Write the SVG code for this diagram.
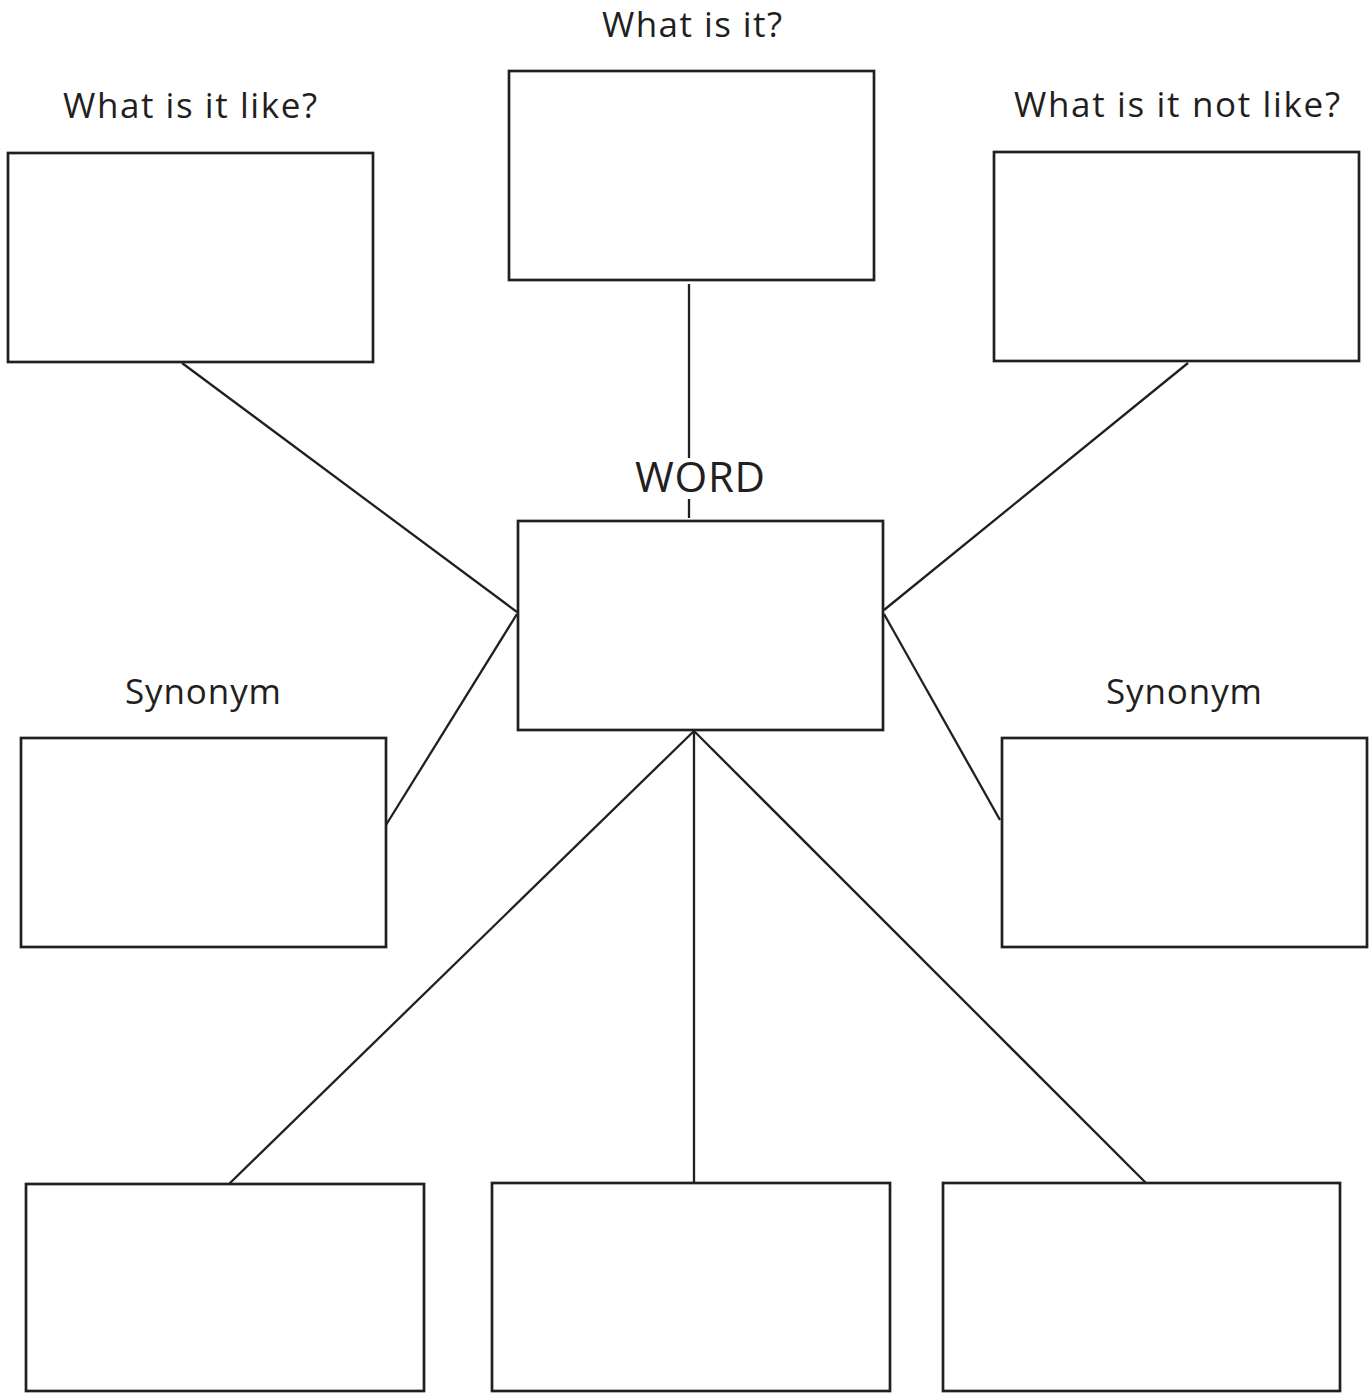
<svg xmlns="http://www.w3.org/2000/svg" width="1369" height="1393" viewBox="0 0 1369 1393">
<style>
.box{fill:#fff;stroke:#231f20;stroke-width:2.7}
.conn line{stroke:#231f20;stroke-width:2.3}
.lbl{font-family:"Open Sans","Noto Sans",sans-serif;font-size:35px;fill:#231f20;text-anchor:middle}
.big{font-size:42px}
</style>
<rect width="1369" height="1393" fill="#fff"/>
<g id="connectors" class="conn">
<line x1="689" y1="284" x2="689" y2="458"/>
<line x1="689" y1="499" x2="689" y2="518"/>
<line x1="182" y1="363" x2="517" y2="612"/>
<line x1="1188" y1="363" x2="884" y2="610"/>
<line x1="517" y1="614" x2="386" y2="825"/>
<line x1="884" y1="614" x2="1000" y2="820"/>
<line x1="694" y1="731" x2="229" y2="1184"/>
<line x1="694" y1="731" x2="694" y2="1183"/>
<line x1="694" y1="731" x2="1146" y2="1183"/>
</g>
<g id="node-what"><text class="lbl" x="692" y="37" textLength="180" lengthAdjust="spacing">What is it?</text><rect class="box" x="509" y="71" width="365" height="209"/></g>
<g id="node-like"><text class="lbl" x="190" y="118" textLength="254" lengthAdjust="spacing">What is it like?</text><rect class="box" x="8" y="153" width="365" height="209"/></g>
<g id="node-notlike"><text class="lbl" x="1177" y="117" textLength="326" lengthAdjust="spacing">What is it not like?</text><rect class="box" x="994" y="152" width="365" height="209"/></g>
<g id="node-word"><text class="lbl big" x="700" y="492" textLength="130" lengthAdjust="spacing">WORD</text><rect class="box" x="518" y="521" width="365" height="209"/></g>
<g id="node-syn-left"><text class="lbl" x="203" y="704" textLength="156" lengthAdjust="spacing">Synonym</text><rect class="box" x="21" y="738" width="365" height="209"/></g>
<g id="node-syn-right"><text class="lbl" x="1184" y="704" textLength="156" lengthAdjust="spacing">Synonym</text><rect class="box" x="1002" y="738" width="365" height="209"/></g>
<g id="node-bottom-left"><rect class="box" x="26" y="1184" width="398" height="207"/></g>
<g id="node-bottom-mid"><rect class="box" x="492" y="1183" width="398" height="208"/></g>
<g id="node-bottom-right"><rect class="box" x="943" y="1183" width="397" height="208"/></g>
</svg>
